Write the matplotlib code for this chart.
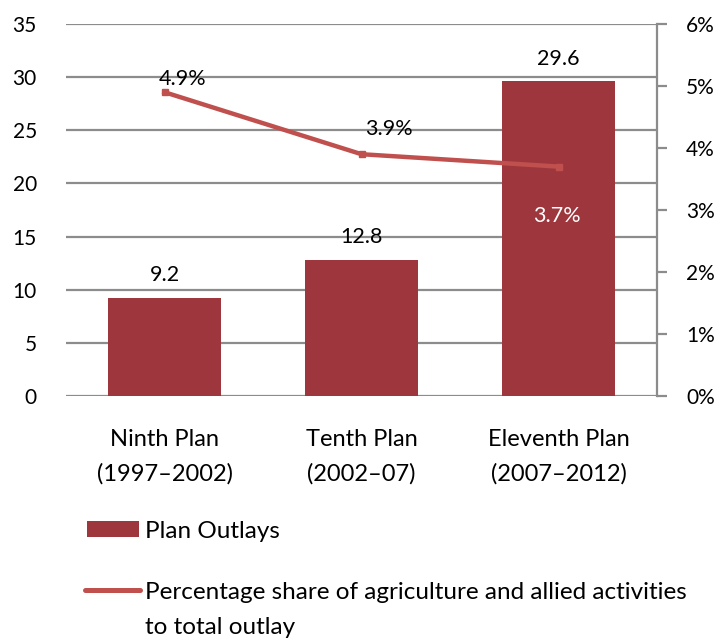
import numpy as np
import matplotlib.pyplot as plt
from matplotlib.lines import Line2D
from matplotlib.patches import Patch

# plan outlays and share of agriculture
plans = ['Ninth Plan\n(1997–2002)', 'Tenth Plan\n(2002–07)', 'Eleventh Plan\n(2007–2012)']
outlays = [9.2, 12.8, 29.6]
share_pct = [4.9, 3.9, 3.7]
left_ticks = [0, 5, 10, 15, 20, 25, 30, 35]
right_ticks = [0, 1, 2, 3, 4, 5, 6]

bar_color = '#9E373D'
line_color = '#C0504D'
grid_color = '#8C8C8C'

plt.rcParams['font.family'] = ['Lato', 'DejaVu Sans']

fig = plt.figure(figsize=(7.18, 6.39), dpi=100)
ax = fig.add_axes([66 / 718, 1 - 396 / 639, (657 - 66) / 718, (396 - 24) / 639])
x = np.arange(len(plans))

ax.bar(x, outlays, width=0.575, color=bar_color, zorder=2)
ax.set_xlim(-0.5, 2.5)
ax.set_ylim(0, 35)
ax.set_yticks(left_ticks)
ax.set_yticklabels([str(t) for t in left_ticks], fontsize=15)
ax.yaxis.grid(True, color=grid_color, linewidth=1.6, zorder=0)
ax.set_axisbelow(True)
ax.tick_params(axis='y', length=0, pad=21)
ax.set_xticks(x)
ax.set_xticklabels(plans, fontsize=17, linespacing=1.7)
ax.tick_params(axis='x', length=0, pad=24)
for s in ['left', 'top', 'right', 'bottom']:
    ax.spines[s].set_visible(False)

for xi, v in zip(x, outlays):
    ax.text(xi, v + 1.2, f'{v}', ha='center', va='bottom', fontsize=15.5, color='black')

ax2 = ax.twinx()
ax2.plot(x, share_pct, color=line_color, linewidth=3.2, marker='s', markersize=5, zorder=3)
ax2.set_ylim(0, 6)
ax2.set_yticks(right_ticks)
ax2.set_yticklabels([f'{t}%' for t in right_ticks], fontsize=15)
ax2.tick_params(axis='y', length=7, width=1.6, color=grid_color, pad=14)
for s in ['left', 'top', 'bottom']:
    ax2.spines[s].set_visible(False)
ax2.spines['right'].set_color(grid_color)
ax2.spines['right'].set_linewidth(1.6)

# percentage labels
ax2.text(x[0] + 0.09, share_pct[0] + 0.05, f'{share_pct[0]}%', ha='center', va='bottom', fontsize=15.5)
ax2.text(x[1] + 0.14, share_pct[1] + 0.25, f'{share_pct[1]}%', ha='center', va='bottom', fontsize=15.5)
ax2.text(x[2] - 0.01, share_pct[2] - 0.8, f'{share_pct[2]}%', ha='center', va='center',
         fontsize=15.5, color='white')

# legend below the chart, one entry per box
leg1 = fig.legend([Patch(facecolor=bar_color, edgecolor='none')], ['Plan Outlays'],
                  loc='center left', bbox_to_anchor=(87 / 718, 1 - 531 / 639),
                  frameon=False, fontsize=17.5, handlelength=2.15, handleheight=0.6,
                  handletextpad=0.25, borderpad=0, borderaxespad=0)
leg2 = fig.legend([Line2D([0], [0], color=line_color, linewidth=3.6, solid_capstyle='round')],
                  ['Percentage share of agriculture and allied activities'],
                  loc='center left', bbox_to_anchor=(85 / 718, 1 - 592 / 639),
                  frameon=False, fontsize=17.5, handlelength=2.25,
                  handletextpad=0.2, borderpad=0, borderaxespad=0)
fig.text(145 / 718, 1 - 627 / 639, 'to total outlay', fontsize=17.5, ha='left', va='center')

fig.savefig('out.png', dpi=100)
